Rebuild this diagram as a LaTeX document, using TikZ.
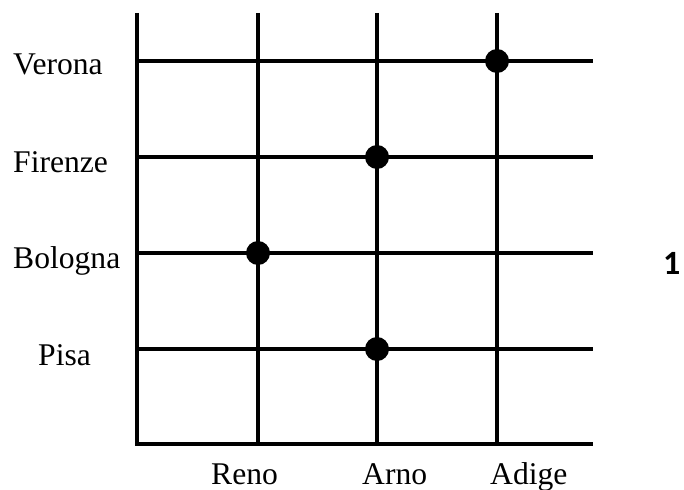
\documentclass[tikz,border=0pt]{standalone}
\usepackage{fontspec}
\setmainfont{Liberation Serif}
\newfontfamily\numfont{Carlito}
\begin{document}
\begin{tikzpicture}[x=1pt,y=-1pt,
  gridline/.style={line width=3.6pt,line cap=butt},
  marker/.style={fill=black,draw=none},
  label/.style={anchor=base west,inner sep=0pt,font=\fontsize{31.6}{38}\selectfont},
  tag/.style={anchor=base west,inner sep=0pt,font=\numfont\bfseries\fontsize{34}{40}\selectfont}]
  \useasboundingbox (0,0) rectangle (684,489);
  % axes
  \coordinate (top) at (137,13);
  \coordinate (origin) at (137,444);
  \coordinate (xend) at (593,444);
  \draw[gridline] (top) -- (origin) -- (xend);
  % horizontal lines (cities)
  \foreach \name/\y in {verona/61,firenze/157,bologna/253,pisa/349}{
    \coordinate (\name-l) at (137,\y);
    \coordinate (\name-r) at (593,\y);
    \draw[gridline] (\name-l) -- (\name-r);
  }
  % vertical lines (rivers)
  \foreach \name/\x in {reno/258,arno/377,adige/497}{
    \coordinate (\name-t) at (\x,13);
    \coordinate (\name-b) at (\x,444);
    \draw[gridline] (\name-t) -- (\name-b);
  }
  % markers
  \fill[marker] (497,61) circle (12);
  \fill[marker] (377,157) circle (12);
  \fill[marker] (258,253) circle (12);
  \fill[marker] (377,349) circle (12);
  % city labels
  \node[label] (lverona) at (13,75) {Verona};
  \node[label] (lfirenze) at (13,172) {Firenze};
  \node[label] (lbologna) at (13,268) {Bologna};
  \node[label] (lpisa) at (38,365) {Pisa};
  % river labels
  \node[label] (lreno) at (211,484) {Reno};
  \node[label] (larno) at (362,484) {Arno};
  \node[label] (ladige) at (490,484) {Adige};
  % figure number
  \node[tag] (num) at (663,274) {1};
\end{tikzpicture}
\end{document}
